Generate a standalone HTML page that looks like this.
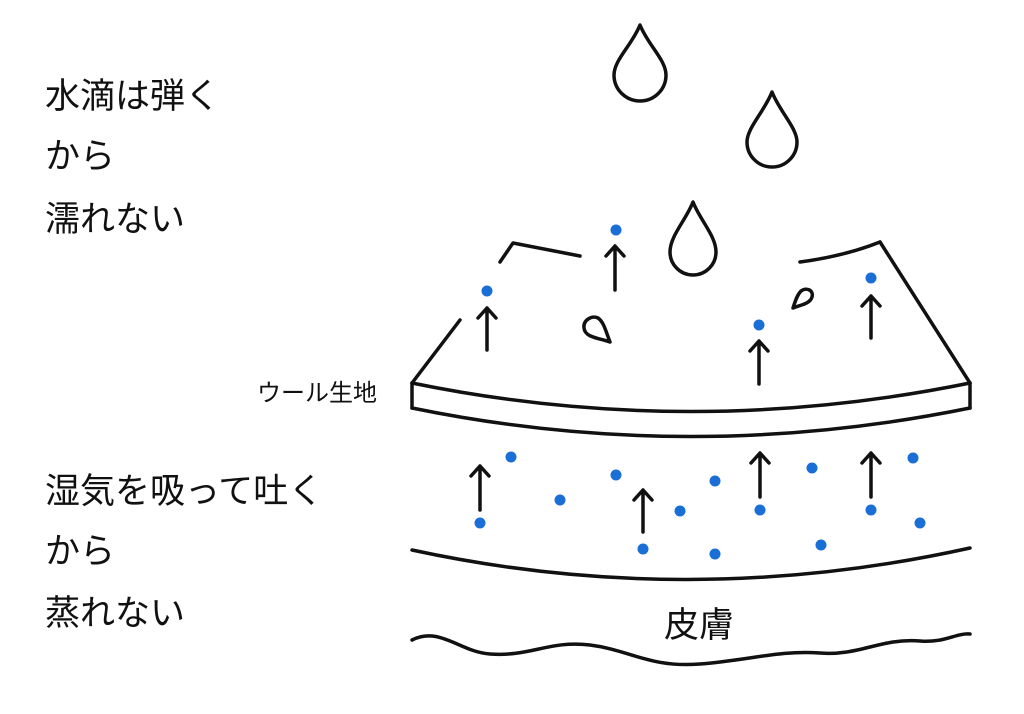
<!DOCTYPE html>
<html><head><meta charset="utf-8"><style>
html,body{margin:0;padding:0;background:#fff;}
svg{display:block;}
text{font-family:"Liberation Sans","Noto Sans CJK JP",sans-serif;fill:#111;}
</style></head><body>
<svg width="1024" height="714" viewBox="0 0 1024 714" xmlns="http://www.w3.org/2000/svg">
<g font-size="35">
<text x="45" y="108">水滴は弾く</text>
<text x="45" y="168">から</text>
<text x="45" y="231">濡れない</text>
<text x="45" y="503">湿気を吸って吐く</text>
<text x="45" y="563">から</text>
<text x="45" y="625">蒸れない</text>
<text x="664" y="637">皮膚</text>
</g>
<text x="257" y="401" font-size="24">ウール生地</text>
<g fill="none" stroke="#111" stroke-width="3.5" stroke-linecap="round" stroke-linejoin="round">
<path d="M412 383 Q690 440 970 383"/>
<path d="M412 408 Q690 465 970 408"/>
<line x1="412" y1="383" x2="412" y2="408"/>
<line x1="970" y1="383" x2="970" y2="408"/>
<line x1="412" y1="383" x2="460" y2="320"/>
<polyline points="500,262 513,243 580,256"/>
<line x1="970" y1="383" x2="880" y2="242"/>
<path d="M800 262 Q845 256 880 242"/>
<path d="M412 550 Q690 610 970 548"/>
<path d="M412 640 C440 626 460 652 490 654 C530 657 550 640 590 645 C630 650 650 668 700 664 C750 660 780 650 820 653 C860 656 880 638 920 641 C945 643 955 633 970 634"/>
<path d="M640 25 C632 45 614 60 614 75 A26 26 0 0 0 666 75 C666 60 648 45 640 25 Z"/>
<path d="M772 92 C764 112 747 128 747 142 A25 25 0 0 0 797 142 C797 128 780 112 772 92 Z"/>
<path d="M693 202 C686 220 670 236 670 252 A23 23 0 0 0 716 252 C716 236 700 220 693 202 Z"/>
<path d="M610 342 C600 338 585 338 584 328 C583 320 592 315 598 318 C604 322 606 332 610 342 Z"/>
<path d="M793 308 C800 305 810 304 812 297 C814 290 806 287 801 291 C797 295 795 302 793 308 Z"/>
<path d="M615 290 V246 M606 256 L615 246 L624 256"/>
<path d="M487 350 V308 M478 318 L487 308 L496 318"/>
<path d="M759 384 V341 M750 351 L759 341 L768 351"/>
<path d="M871 338 V296 M862 306 L871 296 L880 306"/>
<path d="M480 510 V466 M471 476 L480 466 L489 476"/>
<path d="M643 532 V490 M634 500 L643 490 L652 500"/>
<path d="M760 497 V453 M751 463 L760 453 L769 463"/>
<path d="M871 497 V453 M862 463 L871 453 L880 463"/>
</g>
<g fill="#1a6fd6">
<circle cx="616" cy="230" r="5.5"/><circle cx="487" cy="291" r="5.5"/><circle cx="759" cy="325" r="5.5"/><circle cx="871" cy="278" r="5.5"/>
<circle cx="511" cy="457" r="5.5"/><circle cx="480" cy="523" r="5.5"/><circle cx="560" cy="500" r="5.5"/><circle cx="616" cy="475" r="5.5"/>
<circle cx="643" cy="549" r="5.5"/><circle cx="680" cy="511" r="5.5"/><circle cx="715" cy="481" r="5.5"/><circle cx="715" cy="554" r="5.5"/>
<circle cx="760" cy="510" r="5.5"/><circle cx="812" cy="468" r="5.5"/><circle cx="821" cy="545" r="5.5"/><circle cx="871" cy="510" r="5.5"/>
<circle cx="913" cy="458" r="5.5"/><circle cx="920" cy="523" r="5.5"/>
</g>
</svg>
</body></html>
